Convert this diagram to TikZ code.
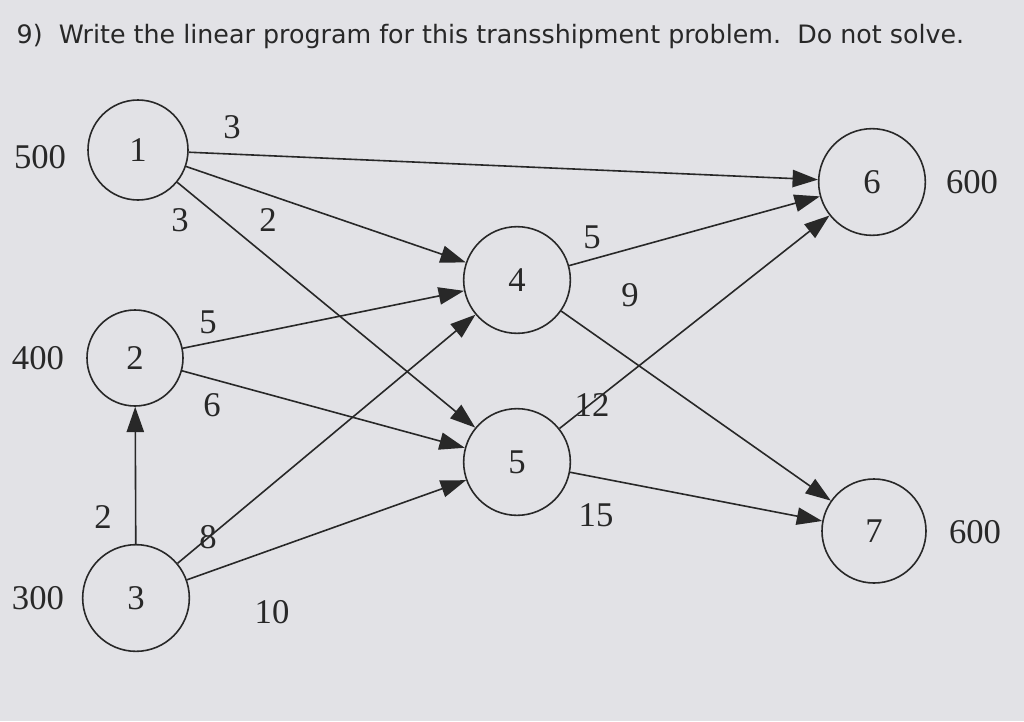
\documentclass[tikz,border=0pt]{standalone}
\usepackage{fontspec}
\setmainfont{Liberation Serif}
\newfontfamily\titlefont{DejaVu Sans}
\usetikzlibrary{arrows.meta}
\definecolor{paper}{RGB}{226,226,230}
\definecolor{ink}{RGB}{40,40,40}
\begin{document}
\begin{tikzpicture}[x=0.75pt,y=-0.75pt,
  nd/.style={circle,draw=ink,line width=1.2pt,inner sep=0pt,font=\fontsize{26}{28}\selectfont,text=ink},
  ar/.style={draw=ink,line width=1.2pt,-{Triangle[length=19pt,width=13pt]}},
  lb/.style={font=\fontsize{26}{28}\selectfont,text=ink}]
\fill[paper] (0,0) rectangle (1024,721);
\useasboundingbox (0,0) rectangle (1024,721);
\node[anchor=west,font=\titlefont\fontsize{19}{22}\selectfont,text=ink] (t) at (12,37) {9)\ \ Write the linear program for this transshipment problem.\ \ Do not solve.};
\node[nd,minimum size=75pt] (n1) at (138,150) {1};
\node[nd,minimum size=72pt] (n2) at (135,358) {2};
\node[nd,minimum size=80pt] (n3) at (136,598) {3};
\node[nd,minimum size=80pt] (n4) at (517,280) {4};
\node[nd,minimum size=80pt] (n5) at (517,462) {5};
\node[nd,minimum size=80pt] (n6) at (872,182) {6};
\node[nd,minimum size=78pt] (n7) at (874,531) {7};
\draw[ar] (n1) -- (n6);
\draw[ar] (n1) -- (n4);
\draw[ar] (n1) -- (n5);
\draw[ar] (n2) -- (n4);
\draw[ar] (n2) -- (n5);
\draw[ar] (n3) -- (n2);
\draw[ar] (n3) -- (n4);
\draw[ar] (n3) -- (n5);
\draw[ar] (n4) -- (n6);
\draw[ar] (n4) -- (n7);
\draw[ar] (n5) -- (n6);
\draw[ar] (n5) -- (n7);
\node[lb] (c1) at (232,127) {3};
\node[lb] (c2) at (180,220) {3};
\node[lb] (c3) at (268,220) {2};
\node[lb] (c4) at (208,322) {5};
\node[lb] (c5) at (212,405) {6};
\node[lb] (c6) at (103,517) {2};
\node[lb] (c7) at (208,537) {8};
\node[lb] (c8) at (272,612) {10};
\node[lb] (c9) at (592,237) {5};
\node[lb] (c10) at (630,295) {9};
\node[lb] (c11) at (592,405) {12};
\node[lb] (c12) at (596,515) {15};
\node[lb] (s1) at (40,157) {500};
\node[lb] (s2) at (38,358) {400};
\node[lb] (s3) at (38,598) {300};
\node[lb] (d6) at (972,182) {600};
\node[lb] (d7) at (975,532) {600};
\end{tikzpicture}
\end{document}
